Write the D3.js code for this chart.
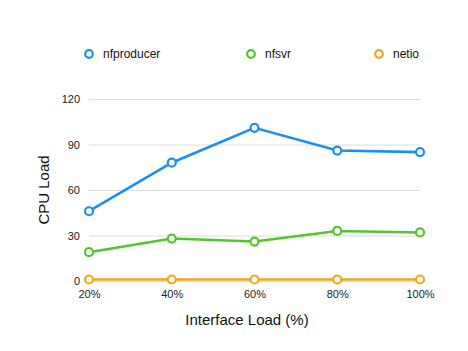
<!DOCTYPE html>
<html>
<head>
<meta charset="utf-8">
<script src="https://cdn.jsdelivr.net/npm/d3@7"></script>
<style>
  html, body { margin: 0; padding: 0; background: #fff; overflow: hidden; }
  svg { display: block; font-family: "Liberation Sans", Arial, sans-serif; }
</style>
</head>
<body>
<div id="chart"></div>
<script>
// data
const categories = ["20%", "40%", "60%", "80%", "100%"];
const seriesNames = ["nfproducer", "nfsvr", "netio"];
const nfproducer = [46, 78, 101, 86, 85];
const nfsvr = [19, 28, 26, 33, 32];
const netio = [1, 1, 1, 1, 1];
const yTicks = [0, 30, 60, 90, 120];
const colors = ["#1b8ff0", "#52c52b", "#f0a81a"];

const series = [nfproducer, nfsvr, netio];

const width = 468;
const height = 351;

const margin = {top: 99, right: 48, bottom: 70, left: 89};
const innerWidth = width - margin.left - margin.right;
const innerHeight = height - margin.top - margin.bottom;

// scales
const xScale = d3.scalePoint()
  .domain(categories)
  .range([0, innerWidth]);

const yScale = d3.scaleLinear()
  .domain([0, 120])
  .range([innerHeight, 0]);

const svg = d3.select("#chart")
  .append("svg")
  .attr("width", width)
  .attr("height", height);

const g = svg.append("g")
  .attr("transform", `translate(${margin.left},${margin.top})`);

// gridlines
g.append("g")
  .call(d3.axisLeft(yScale).tickValues(yTicks).tickSize(-innerWidth).tickFormat(""))
  .call(a => a.select(".domain").remove())
  .call(a => a.selectAll("text").remove())
  .call(a => a.selectAll("line").attr("stroke", "#dcdcdc").attr("stroke-width", 1));

// y axis labels
g.append("g")
  .call(d3.axisLeft(yScale).tickValues(yTicks).tickSize(0).tickPadding(9))
  .call(a => a.select(".domain").remove())
  .call(a => a.selectAll("text").attr("font-size", 11).attr("fill", "#222")
    .style("font-family", "'Liberation Sans', Arial, sans-serif"));

// x axis labels
g.append("g")
  .attr("transform", `translate(0,${innerHeight})`)
  .call(d3.axisBottom(xScale).tickSize(0).tickPadding(9))
  .call(a => a.select(".domain").remove())
  .call(a => a.selectAll("text").attr("font-size", 11).attr("fill", "#222")
    .style("font-family", "'Liberation Sans', Arial, sans-serif"));

// lines
const line = d3.line()
  .x((d, i) => xScale(categories[i]))
  .y(d => yScale(d));

series.forEach((s, k) => {
  g.append("path")
    .datum(s)
    .attr("fill", "none")
    .attr("stroke", colors[k])
    .attr("stroke-width", 2.6)
    .attr("d", line);

  g.selectAll(".pt" + k)
    .data(s)
    .enter().append("circle")
    .attr("cx", (d, i) => xScale(categories[i]))
    .attr("cy", d => yScale(d))
    .attr("r", 4)
    .attr("fill", "#fff")
    .attr("stroke", colors[k])
    .attr("stroke-width", 2.2);
});

// axis titles
svg.append("text")
  .attr("transform", `translate(49,${margin.top + innerHeight / 2}) rotate(-90)`)
  .attr("text-anchor", "middle")
  .attr("font-size", 15)
  .attr("fill", "#111")
  .text("CPU Load");

svg.append("text")
  .attr("x", 247)
  .attr("y", 325)
  .attr("text-anchor", "middle")
  .attr("font-size", 15)
  .attr("fill", "#111")
  .text("Interface Load (%)");

// legend
const legendX = [89, 251, 379];
const legend = svg.append("g");
seriesNames.forEach((name, k) => {
  legend.append("circle")
    .attr("cx", legendX[k])
    .attr("cy", 54)
    .attr("r", 3.8)
    .attr("fill", "#fff")
    .attr("stroke", colors[k])
    .attr("stroke-width", 2.2);
  legend.append("text")
    .attr("x", legendX[k] + 14)
    .attr("y", 58)
    .attr("font-size", 12)
    .attr("fill", "#111")
    .text(name);
});
</script>
</body>
</html>
